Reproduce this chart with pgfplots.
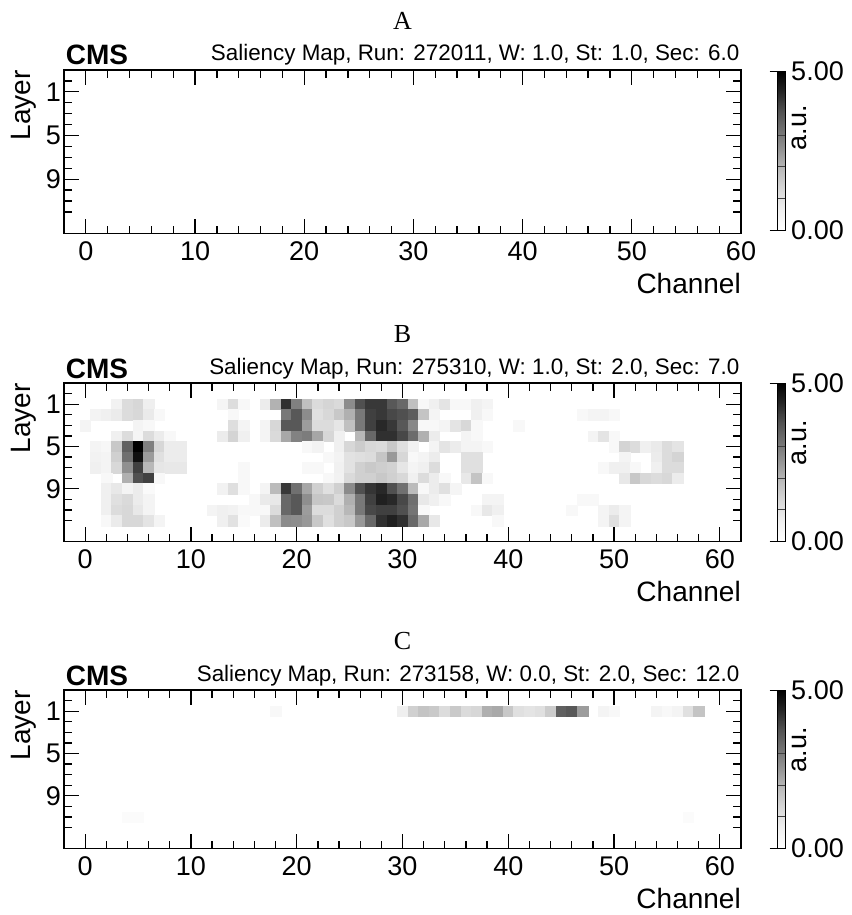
\documentclass[border=0pt]{standalone}
\usepackage{pgfplots}
\usepackage{pgfplotstable}
\pgfplotsset{compat=1.18}
\usepackage{fontspec}
\setmainfont{Liberation Sans}
\newfontfamily\timesfont{Liberation Serif}

\pgfplotstableread{
x y v
3 1 0.55
4 1 1.17
5 1 1.30
6 1 0.65
13 1 0.40
14 1 1.15
15 1 0.29
17 1 0.73
18 1 2.05
19 1 4.22
20 1 2.90
21 1 1.81
22 1 1.20
23 1 1.33
24 1 1.22
25 1 2.68
26 1 3.78
27 1 4.11
28 1 4.11
29 1 3.64
30 1 3.33
31 1 1.81
32 1 0.29
33 1 0.63
34 1 0.95
35 1 0.29
36 1 0.29
37 1 0.63
38 1 0.46
1 2 0.50
2 2 0.63
3 2 0.76
4 2 1.17
5 2 1.27
6 2 0.80
7 2 0.29
14 2 0.29
19 2 3.04
20 2 3.64
21 2 2.68
22 2 1.06
23 2 1.27
24 2 1.63
25 2 2.09
26 2 3.04
27 2 4.00
28 2 4.11
29 2 3.89
30 2 3.78
31 2 3.55
32 2 1.72
33 2 0.46
37 2 0.63
38 2 0.29
47 2 0.29
48 2 0.46
49 2 0.46
50 2 0.29
0 3 0.46
5 3 0.46
6 3 0.29
14 3 1.11
15 3 0.46
17 3 0.46
18 3 1.30
19 3 3.64
20 3 3.64
21 3 2.41
22 3 1.17
23 3 1.17
24 3 0.90
25 3 1.81
26 3 3.04
27 3 4.00
28 3 4.33
29 3 4.11
30 3 3.64
31 3 2.75
32 3 0.29
33 3 0.29
34 3 0.46
35 3 0.95
36 3 1.27
37 3 0.29
41 3 0.29
3 4 0.63
4 4 1.17
5 4 0.40
6 4 1.17
7 4 0.73
8 4 0.29
13 4 0.73
14 4 1.36
15 4 0.63
17 4 0.46
18 4 1.22
19 4 2.21
20 4 2.85
21 4 2.97
22 4 2.25
23 4 1.30
24 4 0.63
26 4 1.95
27 4 3.33
28 4 4.22
29 4 4.22
30 4 3.89
31 4 3.25
32 4 2.09
33 4 0.73
36 4 0.46
37 4 0.29
48 4 0.46
49 4 0.95
50 4 0.29
1 5 0.46
2 5 0.35
3 5 1.63
4 5 3.49
5 5 5.00
6 5 2.90
7 5 1.30
8 5 0.73
9 5 0.73
21 5 0.29
22 5 0.50
24 5 0.63
25 5 1.30
26 5 1.55
27 5 1.27
28 5 1.20
29 5 1.63
30 5 1.10
31 5 0.60
33 5 0.46
34 5 0.95
35 5 0.73
36 5 0.46
37 5 0.46
38 5 0.29
50 5 0.29
51 5 1.36
52 5 1.17
53 5 0.63
54 5 0.80
55 5 1.17
56 5 0.95
1 6 0.55
2 6 0.46
3 6 1.45
4 6 3.18
5 6 4.73
6 6 2.40
7 6 1.06
8 6 0.73
9 6 0.73
23 6 0.29
24 6 0.50
25 6 1.00
26 6 1.10
27 6 1.17
28 6 1.68
29 6 2.45
30 6 1.30
31 6 0.29
32 6 0.46
33 6 0.73
36 6 1.06
37 6 1.06
51 6 0.46
54 6 0.73
55 6 1.17
56 6 1.36
1 7 0.63
2 7 0.46
3 7 1.27
4 7 2.60
5 7 4.00
6 7 1.95
7 7 0.90
8 7 0.84
9 7 0.84
15 7 0.29
21 7 0.29
22 7 0.29
24 7 0.60
25 7 1.00
26 7 1.45
27 7 1.60
28 7 1.50
29 7 1.40
30 7 0.90
31 7 0.46
32 7 0.63
33 7 1.17
36 7 1.06
37 7 1.06
49 7 0.29
50 7 0.63
51 7 0.63
52 7 0.29
54 7 0.63
55 7 1.17
56 7 1.17
2 8 0.29
4 8 2.09
5 8 3.78
6 8 4.00
7 8 0.29
15 8 0.29
23 8 0.29
24 8 0.55
25 8 1.22
26 8 1.45
27 8 1.45
28 8 1.63
29 8 1.45
30 8 1.27
31 8 0.63
32 8 1.17
33 8 0.73
34 8 0.29
36 8 0.84
37 8 1.72
38 8 0.29
51 8 0.84
52 8 1.63
53 8 1.27
54 8 1.17
55 8 1.27
56 8 0.73
2 9 0.63
3 9 0.84
4 9 0.46
5 9 0.73
6 9 0.21
13 9 0.55
14 9 1.10
15 9 0.29
17 9 0.46
18 9 1.90
19 9 4.11
20 9 3.18
21 9 2.25
22 9 1.45
23 9 1.06
24 9 1.45
25 9 2.70
26 9 3.78
27 9 4.15
28 9 4.33
29 9 3.78
30 9 3.18
31 9 1.90
32 9 0.29
33 9 0.73
34 9 1.06
35 9 0.40
2 10 0.63
3 10 1.06
4 10 1.22
5 10 0.73
6 10 0.46
16 10 0.29
17 10 0.80
18 10 0.84
19 10 3.33
20 10 3.64
21 10 2.65
22 10 1.68
23 10 1.63
24 10 1.20
25 10 2.09
26 10 3.04
27 10 4.00
28 10 4.46
29 10 4.33
30 10 3.89
31 10 3.20
32 10 0.84
33 10 0.63
34 10 0.29
38 10 0.46
39 10 0.46
47 10 0.29
48 10 0.29
2 11 0.63
3 11 1.17
4 11 1.27
5 11 0.84
6 11 0.46
12 11 0.46
13 11 0.63
14 11 0.55
15 11 0.29
16 11 0.29
17 11 0.29
18 11 1.17
19 11 3.33
20 11 3.64
21 11 2.41
22 11 1.17
23 11 1.17
24 11 1.45
25 11 1.95
26 11 3.04
27 11 3.89
28 11 4.00
29 11 4.00
30 11 3.78
31 11 3.10
32 11 0.29
37 11 0.29
38 11 0.84
39 11 0.63
46 11 0.29
49 11 0.46
50 11 0.73
51 11 0.46
2 12 0.29
3 12 0.76
4 12 1.27
5 12 1.27
6 12 0.95
7 12 0.46
13 12 0.63
14 12 1.00
15 12 0.21
17 12 0.73
18 12 1.81
19 12 2.70
20 12 2.65
21 12 2.47
22 12 1.63
23 12 1.06
24 12 1.45
25 12 1.63
26 12 2.47
27 12 3.33
28 12 4.22
29 12 4.46
30 12 4.22
31 12 3.33
32 12 2.21
33 12 0.84
39 12 0.29
49 12 0.46
50 12 1.06
51 12 0.46
}\dataB

\pgfplotstableread{
x y v
18 1 0.29
30 1 0.65
31 1 1.45
32 1 1.72
33 1 1.60
34 1 1.17
35 1 1.60
36 1 1.20
37 1 1.30
38 1 2.10
39 1 2.20
40 1 1.63
41 1 1.06
42 1 0.95
43 1 1.06
44 1 1.54
45 1 3.49
46 1 3.64
47 1 2.40
49 1 0.46
50 1 0.29
54 1 0.46
55 1 0.29
56 1 0.46
57 1 1.06
58 1 1.72
4 11 0.15
5 11 0.15
57 11 0.15
}\dataC

\pgfplotsset{
  colormap={greys}{rgb255=(255,255,255) rgb255=(240,240,240) rgb255=(217,217,217) rgb255=(189,189,189) rgb255=(150,150,150) rgb255=(115,115,115) rgb255=(82,82,82) rgb255=(37,37,37) rgb255=(0,0,0)},
  cmsaxis/.style={
    scale only axis, width=677pt,
    xmin=-2, ymin=-1, ymax=14, y dir=reverse,
    axis line style={line width=1.3pt},
    tick align=inside,
    tick style={line width=1.3pt, black},
    major tick length=15pt, minor tick length=8pt,
    xtick={0,10,...,60}, minor x tick num=4,
    ytick={1,5,9}, minor ytick={0,2,3,4,6,7,8,10,11,12},
    /pgf/number format/assume math mode=true,
    ticklabel style={font=\fontsize{27}{27}\selectfont, inner sep=0pt},
    xticklabel style={yshift=-8pt},
    yticklabel style={xshift=-3pt},
    xlabel={Channel}, ylabel={Layer},
    label style={font=\fontsize{28}{28}\selectfont, inner sep=0pt},
    xlabel style={at={(axis description cs:1,0)}, anchor=base east, yshift=-60pt},
    ylabel style={at={(axis description cs:-0.05,1)}, anchor=base east},
    colormap name=greys, point meta min=0, point meta max=5,
    colorbar,
    colorbar style={
      scale only axis,
      at={(parent axis.north east)}, anchor=north west,
      xshift=28pt,
      width=7.5pt, height=158.5pt,
      axis line style={line width=0.9pt},
      ytick={0,5}, yticklabels={0.00,5.00},
      ytick pos=left, yticklabel pos=right,
      tick align=outside,
      major tick length=8pt,
      tick style={line width=0.9pt, black},
      yticklabel style={font=\fontsize{27}{27}\selectfont, anchor=west, inner sep=0pt, xshift=-2pt},
      extra y ticks={1,2,3,4}, extra y tick labels={},
      extra y tick style={tick align=inside, major tick length=7.5pt, tick style={line width=0.8pt, black!75}},
    },
  },
  cells/.style={scatter, only marks, mark=square*, mark size=5.3pt,
    scatter/use mapped color={draw=mapped color, fill=mapped color},
    mark options={line width=0.2pt}},
}

\begin{document}
\begin{tikzpicture}
\path[use as bounding box] (0,0) rectangle (851pt,-915pt);

% Panel A
\begin{axis}[cmsaxis, name=A, at={(64pt,-70pt)}, anchor=north west,
  height=163.8pt, xmax=60, colorbar style={yshift=-1.7pt}]
\end{axis}
\node[anchor=base, inner sep=0pt, font=\timesfont\fontsize{26}{26}\selectfont] at ([yshift=40.7pt]A.north) {A};
\node[anchor=base west, inner sep=0pt, font=\bfseries\fontsize{28}{28}\selectfont] at ([xshift=1.7pt, yshift=5pt]A.north west) {CMS};
\node[anchor=base east, inner sep=0pt, font=\fontsize{22.4}{22.4}\selectfont] at ([xshift=-1.5pt, yshift=9pt]A.north east) {Saliency Map, Run: 272011, W: 1.0, St: 1.0, Sec: 6.0};
\node[rotate=90, inner sep=0pt, font=\fontsize{27}{27}\selectfont] at ([xshift=58.5pt, yshift=-58pt]A.north east) {a.u.};

% Panel B
\begin{axis}[cmsaxis, name=B, at={(64pt,-383pt)}, anchor=north west,
  height=158.7pt, xmax=62]
\addplot[cells, point meta=\thisrow{v}] table[x=x, y=y] {\dataB};
\end{axis}
\node[anchor=base, inner sep=0pt, font=\timesfont\fontsize{26}{26}\selectfont] at ([yshift=40.7pt]B.north) {B};
\node[anchor=base west, inner sep=0pt, font=\bfseries\fontsize{28}{28}\selectfont] at ([xshift=1.7pt, yshift=5pt]B.north west) {CMS};
\node[anchor=base east, inner sep=0pt, font=\fontsize{22.4}{22.4}\selectfont] at ([xshift=-1.5pt, yshift=9pt]B.north east) {Saliency Map, Run: 275310, W: 1.0, St: 2.0, Sec: 7.0};
\node[rotate=90, inner sep=0pt, font=\fontsize{27}{27}\selectfont] at ([xshift=58.5pt, yshift=-59.5pt]B.north east) {a.u.};

% Panel C
\begin{axis}[cmsaxis, name=C, at={(64pt,-690pt)}, anchor=north west,
  height=158.7pt, xmax=62]
\addplot[cells, point meta=\thisrow{v}] table[x=x, y=y] {\dataC};
\end{axis}
\node[anchor=base, inner sep=0pt, font=\timesfont\fontsize{26}{26}\selectfont] at ([yshift=40.7pt]C.north) {C};
\node[anchor=base west, inner sep=0pt, font=\bfseries\fontsize{28}{28}\selectfont] at ([xshift=1.7pt, yshift=5pt]C.north west) {CMS};
\node[anchor=base east, inner sep=0pt, font=\fontsize{22.4}{22.4}\selectfont] at ([xshift=-1.5pt, yshift=9pt]C.north east) {Saliency Map, Run: 273158, W: 0.0, St: 2.0, Sec: 12.0};
\node[rotate=90, inner sep=0pt, font=\fontsize{27}{27}\selectfont] at ([xshift=58.5pt, yshift=-59.5pt]C.north east) {a.u.};
\end{tikzpicture}
\end{document}
